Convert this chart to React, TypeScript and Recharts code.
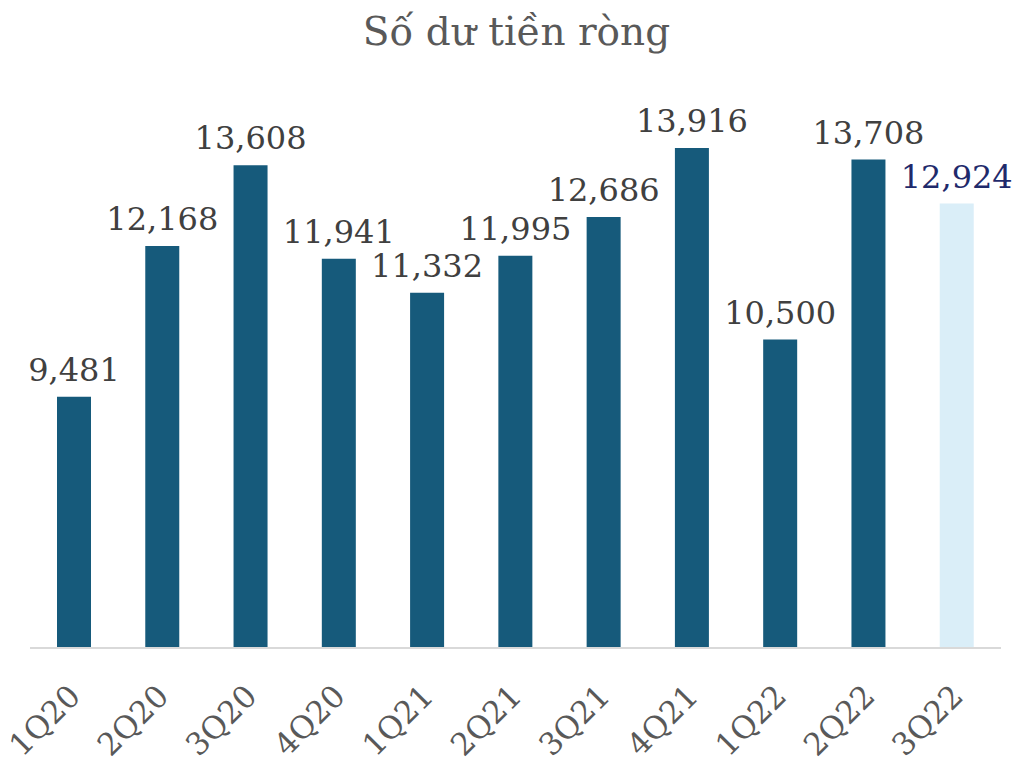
import { BarChart, Bar, XAxis, YAxis, Cell, LabelList } from "recharts"

const quarters = ["1Q20", "2Q20", "3Q20", "4Q20", "1Q21", "2Q21", "3Q21", "4Q21", "1Q22", "2Q22", "3Q22"]
const netBalance = [9481, 12168, 13608, 11941, 11332, 11995, 12686, 13916, 10500, 13708, 12924]
const highlight = [false, false, false, false, false, false, false, false, false, false, true]

const data = quarters.map((q, i) => ({ q, value: netBalance[i], est: highlight[i] }))

const FONT = "'DejaVu Serif', 'Liberation Serif', serif"

const QuarterTick = (props: any) => {
  const { x, y, payload } = props
  return (
    <text
      x={x + 8}
      y={y + 42}
      transform={`rotate(-45, ${x + 8}, ${y + 42})`}
      textAnchor="end"
      fontFamily={FONT}
      fontSize={31}
      fill="#595959"
    >
      {payload.value}
    </text>
  )
}

const ValueLabel = (props: any) => {
  const { x, y, width, value, index } = props
  return (
    <text
      x={x + width / 2}
      y={y - 16}
      textAnchor="middle"
      fontFamily={FONT}
      fontSize={32}
      fill={highlight[index] ? "#1f2a6b" : "#404040"}
    >
      {value.toLocaleString("en-US")}
    </text>
  )
}

export default function App() {
  return (
    <div style={{ position: "absolute", left: 0, top: 0, width: 1025, height: 764, background: "#fff" }}>
      <div
        style={{
          position: "absolute",
          top: 9,
          width: 1025,
          paddingLeft: 4,
          textAlign: "center",
          fontFamily: FONT,
          fontSize: 39,
          color: "#595959",
        }}
      >
        Số dư tiền ròng
      </div>
      <BarChart width={1025} height={764} data={data} margin={{ top: 31, right: 24, left: 30, bottom: 0 }}>
        <XAxis
          dataKey="q"
          height={116}
          interval={0}
          tickLine={false}
          axisLine={{ stroke: "#d9d9d9", strokeWidth: 2 }}
          tick={<QuarterTick />}
        />
        <YAxis hide width={0} domain={[5000, 16000]} allowDataOverflow />
        <Bar dataKey="value" barSize={34} isAnimationActive={false}>
          {data.map((d, i) => (
            <Cell key={i} fill={d.est ? "#daeef8" : "#165a7b"} />
          ))}
          <LabelList dataKey="value" content={<ValueLabel />} />
        </Bar>
      </BarChart>
    </div>
  )
}
